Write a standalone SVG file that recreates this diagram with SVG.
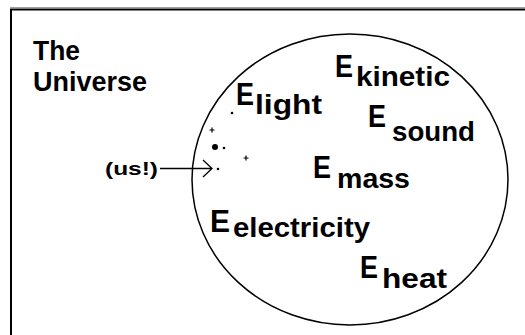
<svg xmlns="http://www.w3.org/2000/svg" width="525" height="335" viewBox="0 0 525 335">
<style>
text{font-family:"Liberation Sans",Arial,sans-serif;font-weight:bold;fill:#000}
.big{font-size:31px}
.sub{font-size:27px}
.lbl{font-size:27px}
.us{font-size:19px}
.dot{fill:#000}
.x{stroke:#000;stroke-width:1.2}
</style>
<rect width="525" height="335" fill="#fff"/>
<line x1="10" y1="7.5" x2="525" y2="7.5" stroke="#a0a0a0" stroke-width="1"/>
<path d="M11,335 V9.5 H525" fill="none" stroke="#000" stroke-width="2"/>
<g id="title">
<text class="lbl" x="33" y="60" textLength="47" lengthAdjust="spacingAndGlyphs">The</text>
<text class="lbl" x="33" y="91" textLength="114" lengthAdjust="spacingAndGlyphs">Universe</text>
</g>
<g id="universe">
<ellipse cx="350" cy="179.5" rx="158" ry="145.5" fill="none" stroke="#000" stroke-width="1.5"/>
</g>
<g id="e-light"><text class="big" x="236" y="105" textLength="18" lengthAdjust="spacingAndGlyphs">E</text><text class="sub" x="255" y="114" textLength="67" lengthAdjust="spacingAndGlyphs">light</text></g>
<g id="e-kinetic"><text class="big" x="335" y="77" textLength="18" lengthAdjust="spacingAndGlyphs">E</text><text class="sub" x="356" y="86" textLength="94" lengthAdjust="spacingAndGlyphs">kinetic</text></g>
<g id="e-sound"><text class="big" x="368" y="127" textLength="18" lengthAdjust="spacingAndGlyphs">E</text><text class="sub" x="392" y="141" textLength="83" lengthAdjust="spacingAndGlyphs">sound</text></g>
<g id="e-mass"><text class="big" x="313" y="178" textLength="18" lengthAdjust="spacingAndGlyphs">E</text><text class="sub" x="337" y="188" textLength="73" lengthAdjust="spacingAndGlyphs">mass</text></g>
<g id="e-electricity"><text class="big" x="210" y="232" textLength="20" lengthAdjust="spacingAndGlyphs">E</text><text class="sub" x="233" y="237" textLength="137" lengthAdjust="spacingAndGlyphs">electricity</text></g>
<g id="e-heat"><text class="big" x="360" y="278" textLength="18" lengthAdjust="spacingAndGlyphs">E</text><text class="sub" x="382" y="288" textLength="65" lengthAdjust="spacingAndGlyphs">heat</text></g>
<g id="stars">
<circle class="dot" cx="232" cy="113" r="1.3"/>
<path class="x" d="M209.5,130 h5 M212,127.5 v5"/>
<circle class="dot" cx="215" cy="147" r="3"/>
<circle class="dot" cx="224" cy="148" r="1.3"/>
<path class="x" d="M243.5,158 h5 M246,155.5 v5"/>
<circle class="dot" cx="218" cy="169" r="1.3"/>
</g>
<g id="us"><text class="us" x="105" y="175" textLength="53" lengthAdjust="spacingAndGlyphs">(us!)</text></g>
<g id="connectors">
<path d="M160,168.5 H212 M203,160 L212,168.5 L203,177" fill="none" stroke="#000" stroke-width="1.3"/>
</g>
</svg>
